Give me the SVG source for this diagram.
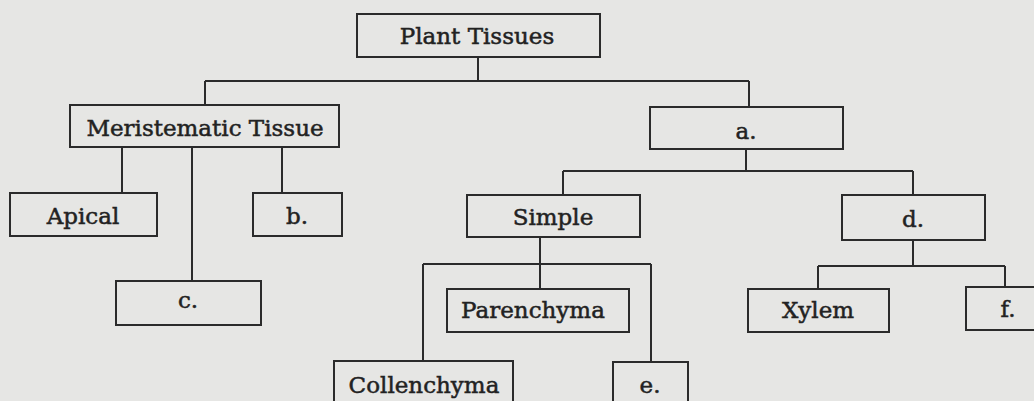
<svg xmlns="http://www.w3.org/2000/svg" width="1034" height="401" viewBox="0 0 1034 401">
<style>
.box{fill:none;stroke:#2b2b2b;stroke-width:2}
.lbl{font-family:"DejaVu Serif","Liberation Serif",serif;font-size:23px;fill:#222;stroke:#222;stroke-width:0.5;text-anchor:middle}
.conn path{fill:none;stroke:#2b2b2b;stroke-width:2}
</style>
<rect width="1034" height="401" fill="#e6e6e4"/>
<g class="conn">
<path d="M478 57V81M205 81H749M205 81V105M749 81V107"/>
<path d="M122 147V193M192 147V281M282 147V193"/>
<path d="M746 149V171M563 171H913M563 171V195M913 171V195"/>
<path d="M540 237V289M423 264H651M423 264V361M651 264V362"/>
<path d="M913 240V266M818 266H1005M818 266V289M1005 266V287"/>
</g>
<g id="plant-tissues"><rect class="box" x="357" y="14" width="243" height="43"/><text class="lbl" x="477" y="44">Plant Tissues</text></g>
<g id="meristematic"><rect class="box" x="70" y="105" width="269" height="42"/><text class="lbl" x="205" y="136">Meristematic Tissue</text></g>
<g id="a"><rect class="box" x="650" y="107" width="193" height="42"/><text class="lbl" x="746" y="139">a.</text></g>
<g id="apical"><rect class="box" x="10" y="193" width="147" height="43"/><text class="lbl" x="83" y="224">Apical</text></g>
<g id="b"><rect class="box" x="253" y="193" width="89" height="43"/><text class="lbl" x="297" y="224">b.</text></g>
<g id="c"><rect class="box" x="116" y="281" width="145" height="44"/><text class="lbl" x="188" y="308">c.</text></g>
<g id="simple"><rect class="box" x="467" y="195" width="173" height="42"/><text class="lbl" x="553" y="225">Simple</text></g>
<g id="d"><rect class="box" x="842" y="195" width="143" height="45"/><text class="lbl" x="913" y="227">d.</text></g>
<g id="parenchyma"><rect class="box" x="447" y="289" width="182" height="43"/><text class="lbl" x="533" y="318">Parenchyma</text></g>
<g id="xylem"><rect class="box" x="748" y="289" width="141" height="43"/><text class="lbl" x="818" y="318">Xylem</text></g>
<g id="f"><rect class="box" x="966" y="287" width="80" height="43"/><text class="lbl" x="1008" y="317">f.</text></g>
<g id="collenchyma"><rect class="box" x="334" y="361" width="179" height="50"/><text class="lbl" x="424" y="393">Collenchyma</text></g>
<g id="e"><rect class="box" x="613" y="362" width="75" height="50"/><text class="lbl" x="650" y="393">e.</text></g>
</svg>
